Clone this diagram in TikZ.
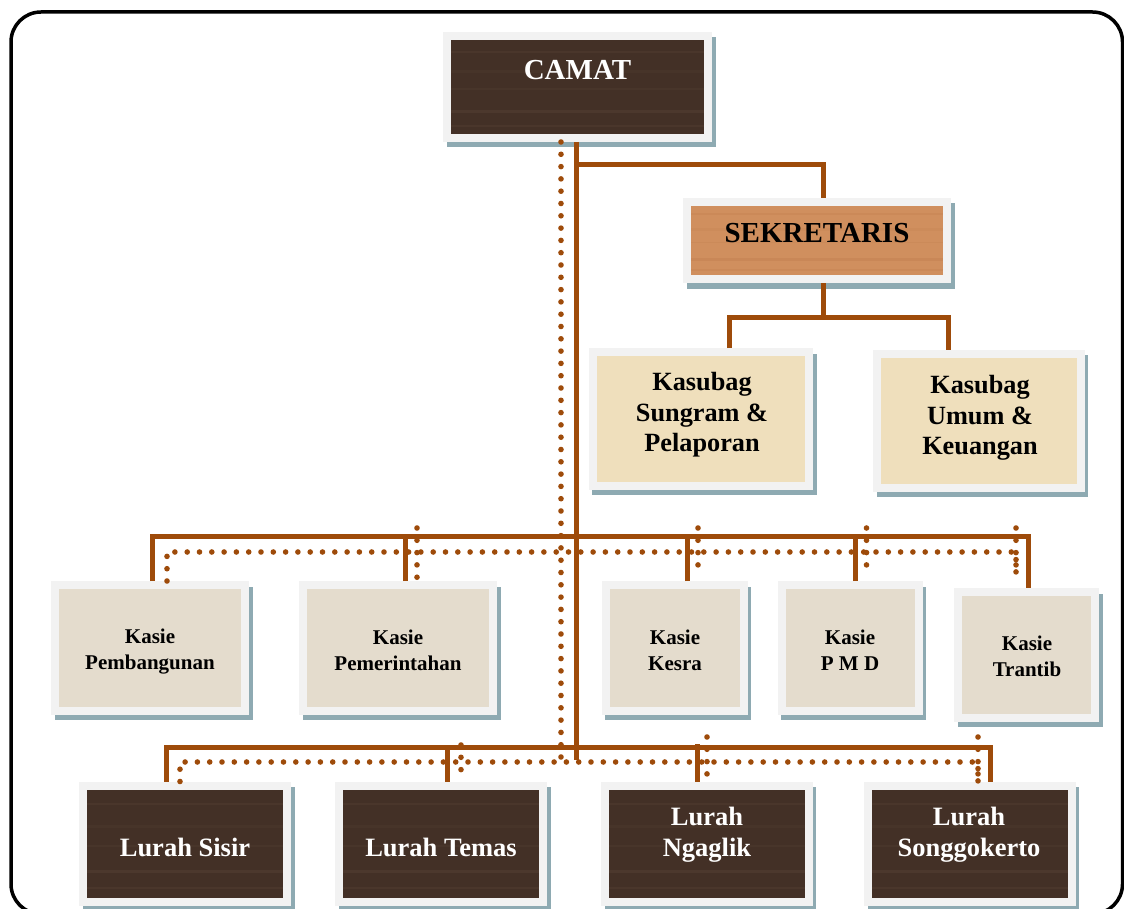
\documentclass[tikz,border=0pt]{standalone}
\usepackage{fontspec}
\setmainfont{Liberation Serif}
\usetikzlibrary{calc}
\definecolor{lineB}{RGB}{158,75,10}
\definecolor{frameG}{RGB}{242,242,242}
\definecolor{shadowB}{RGB}{142,170,178}
\definecolor{woodD}{RGB}{67,48,38}
\definecolor{grainD}{RGB}{115,92,74}
\definecolor{woodS}{RGB}{208,143,94}
\definecolor{grainS}{RGB}{175,105,60}
\definecolor{paperK}{RGB}{239,223,188}
\definecolor{paperE}{RGB}{228,220,205}
\tikzset{
    grain/.style={
        path picture={
            \foreach \f/\o/\w in {0.16/0.15/2, 0.35/0.1/3, 0.52/0.12/1.5, 0.74/0.2/2.5, 0.88/0.15/1.5}{
                \draw[#1, opacity=\o, line width=\w pt]
                    ($(path picture bounding box.north west)!\f!(path picture bounding box.south west)$) --
                    ($(path picture bounding box.north east)!\f!(path picture bounding box.south east)$);
            }
        }
    },
    boxF/.style={rectangle, inner sep=0pt, draw=frameG, line width=8pt,
        preaction={fill=shadowB, draw=shadowB, line width=8pt,
            transform canvas={shift={(3.5pt,-5.5pt)}}}},
    boxD/.style={boxF, fill=woodD, grain=grainD},
    boxS/.style={boxF, fill=woodS, grain=grainS},
    boxK/.style={boxF, fill=paperK},
    boxE/.style={boxF, fill=paperE},
    lineS/.style={draw=lineB, line width=5pt},
    lineD/.style={draw=lineB, line width=5.6pt, line cap=round, dash pattern=on 0pt off 12.3pt},
    txtC/.style={inner sep=0pt, text=white, font=\bfseries\fontsize{29}{33}\selectfont},
    txtS/.style={inner sep=0pt, font=\bfseries\fontsize{29}{33}\selectfont},
    txtK/.style={inner sep=0pt, align=center, font=\bfseries\fontsize{26.3}{30.5}\selectfont},
    txtE/.style={inner sep=0pt, align=center, font=\bfseries\fontsize{21}{26}\selectfont},
    txtL/.style={inner sep=0pt, align=center, text=white, font=\bfseries\fontsize{26.5}{31}\selectfont}
}
\begin{document}
\begin{tikzpicture}[x=1pt, y=-1pt]
    \def \kh {125.5pt}
    \def \lh {116.5pt}
    \useasboundingbox (0,0) rectangle (1124,909);
    \draw[line width=3.5pt, rounded corners=30pt] (11,12) rectangle (1122.5,914);
    % boxes
    \node[boxD, minimum width=261pt, minimum height=102pt] (camat) at (577.5,87) {};
    \node[boxS, minimum width=260pt, minimum height=77.5pt] (sek) at (817,240.75) {};
    \node[boxK, minimum width=216.5pt, minimum height=133.5pt] (sub1) at (701,418.75) {};
    \node[boxK, minimum width=203.5pt, minimum height=134pt] (sub2) at (979,420.5) {};
    \node[boxE, minimum width=190pt, minimum height=\kh] (ks1) at (150,647.75) {};
    \node[boxE, minimum width=190pt, minimum height=\kh] (ks2) at (398,647.75) {};
    \node[boxE, minimum width=138pt, minimum height=\kh] (ks3) at (674.5,647.75) {};
    \node[boxE, minimum width=137pt, minimum height=\kh] (ks4) at (850,647.75) {};
    \node[boxE, minimum width=137pt, minimum height=\kh] (ks5) at (1026.5,654.75) {};
    \node[boxD, minimum width=204pt, minimum height=\lh] (lr1) at (185,843.75) {};
    \node[boxD, minimum width=204pt, minimum height=\lh] (lr2) at (441,843.75) {};
    \node[boxD, minimum width=203.5pt, minimum height=\lh] (lr3) at (707,843.75) {};
    \node[boxD, minimum width=203.5pt, minimum height=\lh] (lr4) at (970,843.75) {};
    % texts
    \node[txtC] (t-camat) at (577.5,70) {CAMAT};
    \node[txtS] (t-sek) at (817,233) {SEKRETARIS};
    \node[txtK] (t-sub1) at (702,415) {Kasubag\\Sungram \&\\Pelaporan};
    \node[txtK] (t-sub2) at (980,418) {Kasubag\\Umum \&\\Keuangan};
    \node[txtE] (t-ks1) at (150,652) {Kasie\\Pembangunan};
    \node[txtE] (t-ks2) at (398,650) {Kasie\\Pemerintahan};
    \node[txtE] (t-ks3) at (675,650) {Kasie\\Kesra};
    \node[txtE] (t-ks4) at (850,650) {Kasie\\P M D};
    \node[txtE] (t-ks5) at (1027,656) {Kasie\\Trantib};
    \node[txtL] (t-lr1) at (185,847) {Lurah Sisir};
    \node[txtL] (t-lr2) at (441,847) {Lurah Temas};
    \node[txtL] (t-lr3) at (707,835) {Lurah\\Ngaglik};
    \node[txtL] (t-lr4) at (969,835) {Lurah\\Songgokerto};
    % solid lines
    \coordinate (trunkE) at (576,760);
    \coordinate (sekJ) at (576,165);
    \coordinate (sekbus) at (823,317);
    \coordinate (kbus) at (576,536);
    \coordinate (lbus) at (576,747);
    \draw[lineS] ([xshift=-1.5pt]camat.south) -- (trunkE);
    \draw[lineS] (sekJ) -| ([xshift=6pt]sek.north);
    \draw[lineS] ([xshift=6pt]sek.south) -- (sekbus);
    \draw[lineS] ([xshift=28pt]sub1.north) |- (sekbus) -| ([xshift=-31pt]sub2.north);
    \draw[lineS] ([xshift=2.5pt]ks1.north) |- (kbus) -| ([xshift=1.5pt]ks5.north);
    \draw[lineS] ([xshift=7pt]ks2.north) -- ([xshift=7pt]ks2.north |- kbus);
    \draw[lineS] ([xshift=12.5pt]ks3.north) -- ([xshift=12.5pt]ks3.north |- kbus);
    \draw[lineS] ([xshift=5pt]ks4.north) -- ([xshift=5pt]ks4.north |- kbus);
    \draw[lineS] ([xshift=-19pt]lr1.north) |- (lbus) -| ([xshift=20pt]lr4.north);
    \draw[lineS] ([xshift=6pt]lr2.north) -- ([xshift=6pt]lr2.north |- lbus);
    \draw[lineS] ([xshift=-10pt]lr3.north) -- ([xshift=-10pt,yshift=3pt]lr3.north |- lbus);
    % dotted lines
    \coordinate (dtrunkE) at (561,761);
    \coordinate (kdbus) at (561,552);
    \coordinate (ldbus) at (561,762);
    \coordinate (kd2) at (417,528);
    \coordinate (kd3) at (698,528);
    \coordinate (kd4) at (866.5,528);
    \coordinate (kd5) at (1016,528);
    \coordinate (ld2) at (461,745);
    \coordinate (ld3) at (707,737);
    \coordinate (ld4) at (978,737);
    \draw[lineD] ([xshift=-16.5pt]camat.south) -- (dtrunkE);
    \draw[lineD] ([xshift=17pt]ks1.north) |- (kdbus) -| ([xshift=-10.5pt,yshift=13pt]ks5.north);
    \draw[lineD] (kd2) -- ([xshift=19pt]ks2.north);
    \draw[lineD] (kd3) -- ([xshift=23.5pt,yshift=6pt]ks3.north);
    \draw[lineD] (kd4) -- ([xshift=16.5pt,yshift=6pt]ks4.north);
    \draw[lineD] (kd5) -- ([xshift=-10.5pt,yshift=13pt]ks5.north);
    \draw[lineD] ([xshift=-5pt]lr1.north) |- (ldbus) -| ([xshift=8pt]lr4.north);
    \draw[lineD] (ld2) -- ([xshift=20pt]lr2.north);
    \draw[lineD] (ld3) -- (lr3.north);
    \draw[lineD] (ld4) -- ([xshift=8pt]lr4.north);
\end{tikzpicture}
\end{document}
